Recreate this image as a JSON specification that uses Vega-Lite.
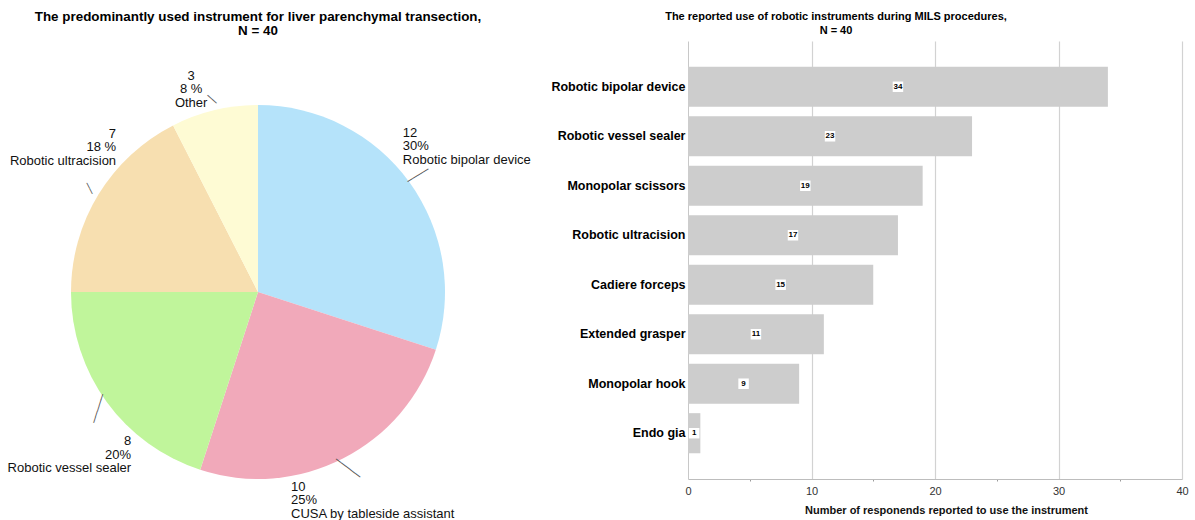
{
  "$schema": "https://vega.github.io/schema/vega-lite/v6.json",
  "background": "white",
  "padding": {"left": 0, "top": 9, "right": 0, "bottom": 0},
  "autosize": {"type": "pad"},
  "spacing": 19,
  "config": {
    "view": {"stroke": null},
    "font": "Liberation Sans",
    "title": {"font": "Liberation Sans", "fontWeight": "bold", "color": "#000", "lineHeight": 14, "baseline": "bottom", "frame": "group", "anchor": "middle"}
  },
  "hconcat": [
    {
      "width": 516,
      "height": 502,
      "title": {
        "text": ["The predominantly used instrument for liver parenchymal transection,", "N = 40"],
        "fontSize": 13.4,
        "offset": 4
      },
      "data": {
        "values": [
          {"instrument": "Robotic bipolar device", "n": 12, "lines": ["12", "30%", "Robotic bipolar device"]},
          {"instrument": "CUSA by tableside assistant", "n": 10, "lines": ["10", "25%", "CUSA by tableside assistant"]},
          {"instrument": "Robotic vessel sealer", "n": 8, "lines": ["8", "20%", "Robotic vessel sealer"]},
          {"instrument": "Robotic ultracision", "n": 7, "lines": ["7", "18 %", "Robotic ultracision"]},
          {"instrument": "Other", "n": 3, "lines": ["3", "8 %", "Other"]}
        ]
      },
      "encoding": {
        "theta": {"field": "n", "type": "quantitative", "stack": true},
        "order": {"field": "n", "type": "quantitative", "sort": "descending"}
      },
      "layer": [
        {
          "mark": {"type": "arc", "outerRadius": 187},
          "encoding": {
            "color": {
              "field": "instrument",
              "type": "nominal",
              "legend": null,
              "scale": {
                "domain": ["Robotic bipolar device", "CUSA by tableside assistant", "Robotic vessel sealer", "Robotic ultracision", "Other"],
                "range": ["#b5e3fa", "#f1a9ba", "#c0f59b", "#f7dfb0", "#fefbd4"]
              }
            }
          }
        },
        {
          "mark": {"type": "text", "radius": 198, "font": "DejaVu Sans Mono", "fontSize": 10, "align": "center", "baseline": "middle", "color": "#555"},
          "encoding": {
            "detail": {"field": "instrument"},
            "text": {
              "condition": [
                {"test": "datum.instrument === 'Robotic bipolar device'", "value": "────"},
                {"test": "datum.instrument === 'CUSA by tableside assistant'", "value": "─────"},
                {"test": "datum.instrument === 'Robotic vessel sealer'", "value": "─────"}
              ],
              "value": "──"
            },
            "angle": {
              "condition": [
                {"test": "datum.instrument === 'Robotic bipolar device'", "value": -32},
                {"test": "datum.instrument === 'CUSA by tableside assistant'", "value": 37},
                {"test": "datum.instrument === 'Robotic vessel sealer'", "value": 108},
                {"test": "datum.instrument === 'Robotic ultracision'", "value": 63}
              ],
              "value": 42
            }
          }
        },
        {
          "mark": {"type": "text", "radius": 205, "fontSize": 13, "lineHeight": 13.5, "align": "left", "baseline": "middle", "dx": -21, "dy": -39, "color": "#111"},
          "encoding": {
            "detail": {"field": "instrument"},
            "text": {"condition": {"test": "datum.instrument === 'Robotic bipolar device'", "field": "lines"}, "value": ""}
          }
        },
        {
          "mark": {"type": "text", "radius": 205, "fontSize": 13, "lineHeight": 13.5, "align": "left", "baseline": "middle", "dx": -60, "dy": 12, "color": "#111"},
          "encoding": {
            "detail": {"field": "instrument"},
            "text": {"condition": {"test": "datum.instrument === 'CUSA by tableside assistant'", "field": "lines"}, "value": ""}
          }
        },
        {
          "mark": {"type": "text", "radius": 205, "fontSize": 13, "lineHeight": 13.5, "align": "right", "baseline": "middle", "dx": 39, "dy": 29, "color": "#111"},
          "encoding": {
            "detail": {"field": "instrument"},
            "text": {"condition": {"test": "datum.instrument === 'Robotic vessel sealer'", "field": "lines"}, "value": ""}
          }
        },
        {
          "mark": {"type": "text", "radius": 150, "fontSize": 13, "lineHeight": 13.5, "align": "right", "baseline": "middle", "dx": -14, "dy": -80, "color": "#111"},
          "encoding": {
            "detail": {"field": "instrument"},
            "text": {"condition": {"test": "datum.instrument === 'Robotic ultracision'", "field": "lines"}, "value": ""}
          }
        },
        {
          "mark": {"type": "text", "radius": 205, "fontSize": 13, "lineHeight": 13.5, "align": "center", "baseline": "middle", "dx": -19, "dy": -17, "color": "#111"},
          "encoding": {
            "detail": {"field": "instrument"},
            "text": {"condition": {"test": "datum.instrument === 'Other'", "field": "lines"}, "value": ""}
          }
        }
      ]
    },
    {
      "width": 494,
      "height": 438,
      "title": {
        "text": ["The reported use of robotic instruments during MILS procedures,", "N = 40"],
        "fontSize": 11,
        "offset": 5,
        "dx": -99
      },
      "data": {
        "values": [
          {"instrument": "Robotic bipolar device", "n": 34},
          {"instrument": "Robotic vessel sealer", "n": 23},
          {"instrument": "Monopolar scissors", "n": 19},
          {"instrument": "Robotic ultracision", "n": 17},
          {"instrument": "Cadiere forceps", "n": 15},
          {"instrument": "Extended grasper", "n": 11},
          {"instrument": "Monopolar hook", "n": 9},
          {"instrument": "Endo gia", "n": 1}
        ]
      },
      "encoding": {
        "y": {
          "field": "instrument",
          "type": "nominal",
          "sort": {"field": "n", "order": "descending"},
          "scale": {"paddingInner": 0.19, "paddingOuter": 0.52},
          "axis": {
            "title": null,
            "domainColor": "#c8c8c8",
            "ticks": false,
            "labelFont": "Liberation Sans",
            "labelFontSize": 12.5,
            "labelFontWeight": "bold",
            "labelColor": "#000",
            "labelPadding": 3
          }
        },
        "x": {
          "field": "n",
          "type": "quantitative",
          "scale": {"domain": [0, 40], "nice": false},
          "axis": {
            "values": [0, 5, 10, 15, 20, 25, 30, 35, 40],
            "labelExpr": "datum.value % 10 === 0 ? datum.label : ''",
            "labelFlush": false,
            "grid": true,
            "gridColor": "#d2d2d2",
            "gridWidth": 1.2,
            "gridOpacity": {"condition": {"test": "datum.value % 10 === 0 && datum.value > 0", "value": 1}, "value": 0},
            "domainColor": "#bdbdbd",
            "tickColor": "#9a9a9a",
            "tickSize": 2,
            "tickOpacity": {"condition": {"test": "datum.value % 10 !== 0", "value": 1}, "value": 0},
            "labelFont": "Liberation Sans",
            "labelFontSize": 11,
            "labelColor": "#333",
            "labelPadding": 4,
            "title": "Number of responends reported to use the instrument",
            "titleFont": "Liberation Sans",
            "titleFontSize": 11,
            "titleFontWeight": "bold",
            "titleColor": "#111",
            "titlePadding": 8,
            "titleX": 258
          }
        }
      },
      "layer": [
        {
          "mark": {"type": "bar", "color": "#cdcdcd"}
        },
        {
          "mark": {"type": "point", "shape": "square", "filled": true, "color": "white", "opacity": 1, "size": 110},
          "encoding": {
            "x": {"field": "n", "type": "quantitative", "stack": "zero", "bandPosition": 0.5},
            "detail": {"field": "instrument"}
          }
        },
        {
          "mark": {"type": "text", "fontSize": 8, "fontWeight": "bold", "color": "#000", "align": "center", "baseline": "middle"},
          "encoding": {
            "x": {"field": "n", "type": "quantitative", "stack": "zero", "bandPosition": 0.5},
            "detail": {"field": "instrument"},
            "text": {"field": "n", "type": "quantitative"}
          }
        }
      ]
    }
  ]
}
